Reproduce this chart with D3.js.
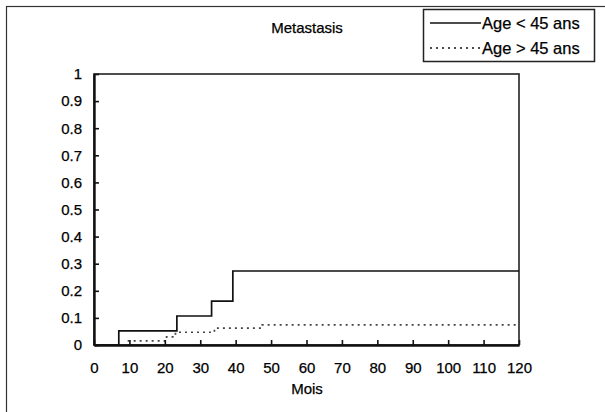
<!DOCTYPE html>
<meta charset="utf-8">
<style>
body { margin: 0; background: #fff; }
text { font-family: "Liberation Sans", Arial, sans-serif; font-size: 15px; fill: #000; stroke: #000; stroke-width: 0.25px; }
</style>
<svg width="605" height="412"></svg>
<script src="https://d3js.org/d3.v7.min.js"></script>
<script>
// step points [month, cumulative incidence]
var youngMonths = [0, 7, 23.4, 33.2, 39.2, 120];
var youngValues = [0, 0.052, 0.107, 0.162, 0.273, 0.273];
var oldMonths = [9.5, 20.5, 23, 34, 47.5, 120];
var oldValues = [0.015, 0.03, 0.047, 0.062, 0.074, 0.074];
var xTicks = [0, 10, 20, 30, 40, 50, 60, 70, 80, 90, 100, 110, 120];
var yTicks = [0, 0.1, 0.2, 0.3, 0.4, 0.5, 0.6, 0.7, 0.8, 0.9, 1];
var seriesNames = ["Age < 45 ans", "Age > 45 ans"];

var svg = d3.select("svg");

// outer frame (cropped on right/bottom)
svg.append("rect")
    .attr("x", 6.5).attr("y", 6.5)
    .attr("width", 700).attr("height", 500)
    .attr("fill", "none").attr("stroke", "#333").attr("stroke-width", 1.2);

var x = d3.scaleLinear().domain([0, 120]).range([94, 519]);
var y = d3.scaleLinear().domain([0, 1]).range([345, 74]);

// plot frame
svg.append("rect")
    .attr("x", x(0)).attr("y", y(1))
    .attr("width", x(120) - x(0)).attr("height", y(0) - y(1))
    .attr("fill", "none").attr("stroke", "#222").attr("stroke-width", 1.6);

var line = d3.line()
    .x(function(d) { return x(d[0]); })
    .y(function(d) { return y(d[1]); })
    .curve(d3.curveStepAfter);

svg.append("path")
    .datum(d3.zip(youngMonths, youngValues))
    .attr("d", line)
    .attr("fill", "none").attr("stroke", "#111").attr("stroke-width", 1.7);

svg.append("path")
    .datum(d3.zip(oldMonths, oldValues))
    .attr("d", line)
    .attr("fill", "none").attr("stroke", "#444").attr("stroke-width", 1.7)
    .attr("stroke-dasharray", "2,4");

// axes, ticks pointing inward
var xAxis = svg.append("g")
    .attr("transform", "translate(0," + y(0) + ")")
    .call(d3.axisBottom(x).tickValues(xTicks).tickSizeInner(-5).tickSizeOuter(0).tickPadding(17));
var yAxis = svg.append("g")
    .attr("transform", "translate(" + x(0) + ",0)")
    .call(d3.axisLeft(y).tickValues(yTicks).tickSizeInner(-5).tickSizeOuter(0).tickPadding(12)
        .tickFormat(function(d) { return d3.format("")(+d.toFixed(1)); }));

[xAxis, yAxis].forEach(function(a) {
  a.attr("font-size", null).attr("font-family", null);
  a.select(".domain").attr("stroke", "#111").attr("stroke-width", 2.4);
  a.selectAll(".tick line").attr("stroke", "#111").attr("stroke-width", 1.6);
  a.selectAll("text").attr("fill", "#000");
});

svg.append("text")
    .attr("x", 307).attr("y", 33)
    .attr("text-anchor", "middle")
    .text("Metastasis");

svg.append("text")
    .attr("x", 307).attr("y", 394)
    .attr("text-anchor", "middle")
    .text("Mois");

// legend
var legend = svg.append("g");
legend.append("rect")
    .attr("x", 423.5).attr("y", 9.5)
    .attr("width", 171).attr("height", 52)
    .attr("fill", "#fff").attr("stroke", "#222").attr("stroke-width", 1.5);

seriesNames.forEach(function(name, i) {
  var ly = 23 + i * 25;
  legend.append("line")
      .attr("x1", 430).attr("x2", 481)
      .attr("y1", ly).attr("y2", ly)
      .attr("stroke", "#111").attr("stroke-width", 1.5)
      .attr("stroke-dasharray", i === 0 ? null : "2,4");
  legend.append("text")
      .attr("x", 482).attr("y", ly + 5.5)
      .style("font-size", "16.5px")
      .text(name);
});
</script>
